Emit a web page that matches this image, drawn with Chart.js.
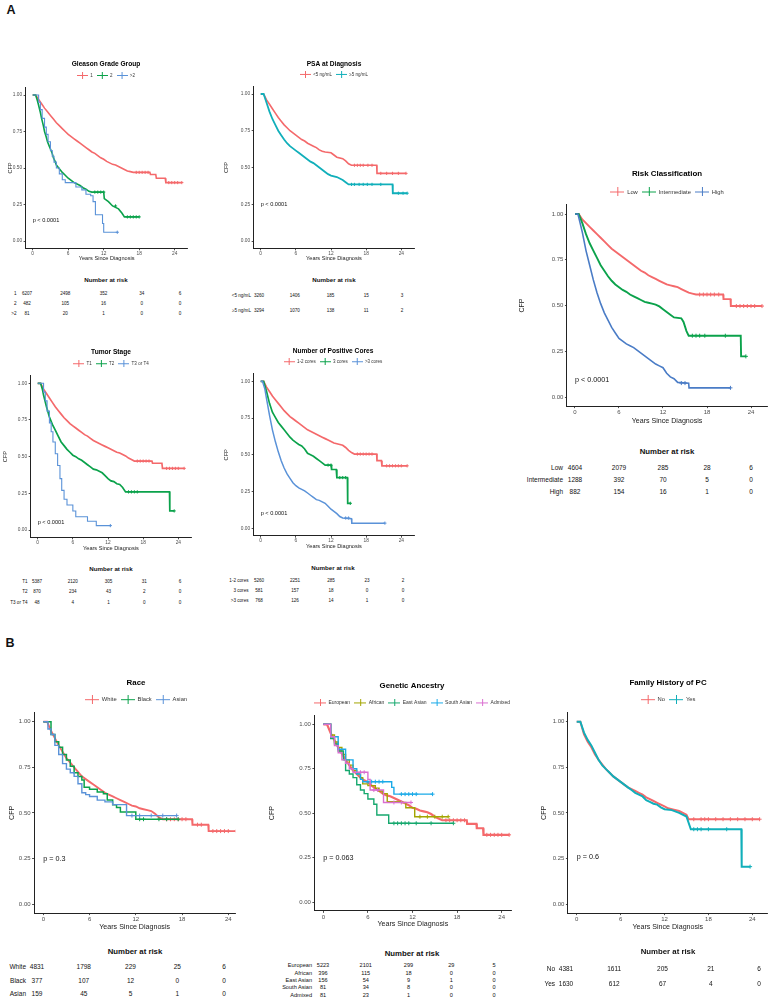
<!DOCTYPE html>
<html>
<head>
<meta charset="utf-8">
<script src="https://cdn.jsdelivr.net/npm/chart.js@4.4.0/dist/chart.umd.min.js"></script>
<style>
  body { margin: 0; width: 770px; height: 1000px; overflow: hidden; background: #fff; position: relative;
         font-family: "Liberation Sans", Arial, sans-serif; color: #111; }
  canvas { position: absolute; }
  .txt { position: absolute; white-space: nowrap; line-height: 1; }
</style>
</head>
<body>
<script>
// ---------- data ----------
const timeTicks = [0, 6, 12, 18, 24];
const survTicks = [0, 0.25, 0.5, 0.75, 1];

// Gleason Grade Group
const gleasonNames = ['1', '2', '>2'];
const gleason1 = [[0,1],[0.5,1],[1,0.97],[1.5,0.94],[2,0.91],[2.5,0.885],[3,0.86],[3.5,0.835],[4,0.81],[4.5,0.79],[5,0.77],[5.5,0.75],[6,0.73],[6.5,0.715],[7,0.7],[7.5,0.685],[8,0.67],[8.5,0.655],[9,0.64],[9.5,0.625],[10,0.61],[10.5,0.6],[11,0.585],[11.5,0.57],[12,0.56],[12.5,0.545],[13,0.535],[13.5,0.525],[14,0.52],[14.5,0.51],[15,0.5],[15.5,0.49],[16,0.48],[16.5,0.475],[17,0.47],[19.8,0.47],[19.9,0.455],[20.8,0.455],[20.9,0.43],[22.4,0.43],[22.5,0.4],[25.2,0.4]];
const gleason2 = [[0,1],[0.5,1],[0.8,0.96],[1,0.93],[1.3,0.88],[1.5,0.84],[1.8,0.79],[2,0.75],[2.3,0.71],[2.5,0.68],[2.8,0.65],[3,0.63],[3.3,0.6],[3.5,0.57],[3.8,0.545],[4,0.52],[4.5,0.495],[5,0.47],[5.5,0.45],[6,0.43],[6.5,0.415],[7,0.4],[7.5,0.39],[8,0.38],[8.5,0.365],[9,0.355],[9.5,0.34],[10,0.335],[12,0.335],[12.1,0.29],[12.8,0.27],[13.5,0.24],[14.5,0.22],[15.1,0.19],[15.5,0.165],[18,0.165]];
const gleason3 = [[0,1],[0.8,1],[1,0.95],[1.3,0.9],[1.6,0.84],[2,0.78],[2.3,0.73],[2.6,0.68],[3,0.62],[3.3,0.58],[3.6,0.54],[4,0.5],[4.5,0.46],[5,0.42],[5.5,0.4],[7.3,0.37],[8.3,0.35],[9,0.32],[9.8,0.31],[10.2,0.27],[10.6,0.18],[11.8,0.12],[12,0.06],[14.3,0.06]];
const gleason1Cens = [[17.5,0.47],[18,0.47],[18.5,0.47],[19,0.47],[19.5,0.47],[23,0.4],[23.5,0.4],[24,0.4],[24.5,0.4],[25.2,0.4]];
const gleason2Cens = [[10.5,0.335],[11,0.335],[11.5,0.335],[12,0.335],[14,0.24],[16,0.165],[16.5,0.165],[17,0.165],[17.5,0.165],[18,0.165]];
const gleason3Cens = [[14.3,0.06]];
const gleasonRisk = [[6207,2498,352,34,6],[482,105,16,0,0],[81,20,1,0,0]];

// PSA at Diagnosis
const psaNames = ['<5 ng/mL', '\u22655 ng/mL'];
const psaLow = [[0,1],[0.5,1],[1,0.96],[1.5,0.93],[2,0.9],[2.5,0.87],[3,0.84],[3.5,0.815],[4,0.79],[4.5,0.77],[5,0.75],[5.5,0.735],[6,0.72],[6.5,0.705],[7,0.69],[7.5,0.68],[8,0.665],[8.5,0.655],[9,0.645],[9.5,0.635],[10,0.62],[10.5,0.61],[11,0.605],[12,0.6],[12.5,0.585],[13,0.57],[14,0.56],[14.5,0.545],[15,0.525],[15.5,0.515],[19.8,0.515],[19.85,0.46],[24.8,0.46]];
const psaHigh = [[0,1],[0.5,1],[1,0.94],[1.5,0.88],[2,0.83],[2.5,0.79],[3,0.75],[3.5,0.72],[4,0.69],[4.5,0.665],[5,0.645],[5.5,0.63],[6,0.615],[6.5,0.6],[7,0.585],[7.5,0.57],[8,0.555],[8.5,0.54],[9,0.53],[9.5,0.515],[10,0.5],[10.5,0.485],[11,0.47],[11.5,0.455],[12,0.445],[13,0.435],[13.5,0.425],[14,0.415],[14.5,0.4],[15,0.385],[22.5,0.385],[22.55,0.325],[25,0.325]];
const psaLowCens = [[16,0.515],[16.5,0.515],[17,0.515],[17.5,0.515],[18.3,0.515],[19,0.515],[20.5,0.46],[21.5,0.46],[22.5,0.46],[23.5,0.46],[24.8,0.46]];
const psaHighCens = [[15.5,0.385],[16,0.385],[16.8,0.385],[17.5,0.385],[18.2,0.385],[19,0.385],[20.5,0.385],[23.5,0.325],[24.3,0.325],[25,0.325]];
const psaRisk = [[3260,1406,185,15,3],[3294,1070,138,11,2]];

// Tumor Stage
const stageNames = ['T1', 'T2', 'T3 or T4'];
const stageT1 = [[0,1],[0.5,1],[1,0.96],[1.5,0.93],[2,0.9],[2.5,0.87],[3,0.84],[3.5,0.815],[4,0.79],[4.5,0.765],[5,0.745],[5.5,0.725],[6,0.71],[6.5,0.695],[7,0.68],[7.5,0.665],[8,0.65],[8.5,0.64],[9,0.625],[9.5,0.61],[10,0.6],[10.5,0.59],[11,0.58],[11.5,0.57],[12,0.56],[12.5,0.55],[13,0.54],[13.5,0.53],[14,0.525],[14.5,0.515],[15,0.505],[15.5,0.49],[16,0.48],[16.5,0.47],[19.5,0.47],[19.6,0.455],[21.2,0.455],[21.3,0.42],[25,0.42]];
const stageT2 = [[0,1],[0.5,1],[0.8,0.96],[1,0.92],[1.5,0.84],[2,0.77],[2.5,0.72],[3,0.68],[3.5,0.64],[4,0.6],[4.5,0.575],[5,0.55],[5.5,0.53],[6,0.51],[6.5,0.5],[7,0.485],[7.5,0.475],[8,0.46],[8.5,0.445],[9,0.43],[9.5,0.415],[10,0.41],[10.5,0.4],[11,0.39],[11.5,0.37],[12,0.35],[12.5,0.335],[13,0.33],[13.5,0.315],[14,0.31],[14.5,0.29],[15,0.26],[22.5,0.26],[22.55,0.13],[23.3,0.13]];
const stageT3 = [[0,1],[0.8,1],[1,0.94],[1.3,0.88],[1.6,0.81],[2,0.73],[2.3,0.67],[2.6,0.6],[3,0.52],[3.4,0.44],[3.8,0.35],[4.1,0.27],[4.5,0.21],[5,0.17],[6,0.13],[6.5,0.09],[8.5,0.06],[10,0.03],[12.4,0.03]];
const stageT1Cens = [[17,0.47],[17.5,0.47],[18,0.47],[18.5,0.47],[19,0.47],[22,0.42],[22.5,0.42],[23,0.42],[23.5,0.42],[24,0.42],[25,0.42]];
const stageT2Cens = [[15.5,0.26],[16,0.26],[16.5,0.26],[17,0.26],[23.3,0.13]];
const stageT3Cens = [[12.4,0.03]];
const stageRisk = [[5387,2120,305,31,6],[870,234,43,2,0],[48,4,1,0,0]];

// Number of Positive Cores
const coresNames = ['1-2 cores', '3 cores', '>3 cores'];
const cores12 = [[0,1],[0.5,1],[1,0.96],[1.5,0.93],[2,0.9],[2.5,0.875],[3,0.85],[3.5,0.825],[4,0.8],[4.5,0.78],[5,0.76],[5.5,0.745],[6,0.73],[6.5,0.715],[7,0.7],[7.5,0.685],[8,0.67],[8.5,0.66],[9,0.65],[9.5,0.64],[10,0.63],[10.5,0.62],[11,0.61],[11.5,0.6],[12,0.59],[12.5,0.58],[13,0.575],[14,0.565],[14.5,0.55],[15,0.53],[15.5,0.515],[16,0.505],[19.8,0.505],[19.85,0.46],[20.6,0.46],[20.7,0.425],[25,0.425]];
const cores3 = [[0,1],[0.5,1],[1,0.93],[1.5,0.85],[2,0.79],[2.5,0.755],[3,0.72],[3.5,0.695],[4,0.67],[4.5,0.645],[5,0.62],[5.5,0.6],[6,0.585],[6.5,0.57],[7,0.56],[7.5,0.54],[8,0.51],[8.5,0.5],[9,0.49],[9.5,0.475],[10,0.46],[10.5,0.445],[11,0.43],[12,0.43],[12.1,0.4],[12.9,0.4],[13,0.345],[14.8,0.345],[14.85,0.17],[15.3,0.17]];
const cores4 = [[0,1],[0.3,1],[0.7,0.95],[1,0.88],[1.5,0.77],[2,0.67],[2.5,0.59],[3,0.52],[3.5,0.46],[4,0.41],[4.5,0.37],[5,0.34],[5.5,0.31],[6,0.29],[6.5,0.275],[7,0.265],[7.5,0.255],[8,0.24],[8.5,0.225],[9,0.21],[9.5,0.195],[10,0.19],[10.5,0.18],[11,0.17],[11.5,0.15],[12,0.13],[12.5,0.115],[13,0.1],[13.5,0.08],[14,0.07],[15.5,0.065],[15.55,0.035],[21.2,0.035]];
const cores12Cens = [[16.5,0.505],[17,0.505],[17.5,0.505],[18,0.505],[18.5,0.505],[19,0.505],[21.5,0.425],[22,0.425],[22.5,0.425],[23,0.425],[23.5,0.425],[24,0.425],[25,0.425]];
const cores3Cens = [[11.5,0.43],[12,0.43],[13.5,0.345],[14,0.345],[14.5,0.345],[15.3,0.17]];
const cores4Cens = [[14.5,0.07],[15,0.07],[21.2,0.035]];
const coresRisk = [[5260,2251,285,23,2],[581,157,18,0,0],[768,126,14,1,0]];

// Risk Classification
const riskNames = ['Low', 'Intermediate', 'High'];
const riskLow = [[0,1],[0.5,1],[1,0.97],[1.5,0.95],[2,0.93],[2.5,0.91],[3,0.89],[3.5,0.87],[4,0.85],[4.5,0.83],[5,0.81],[5.5,0.795],[6,0.78],[6.5,0.765],[7,0.75],[7.5,0.735],[8,0.72],[8.5,0.705],[9,0.69],[9.5,0.68],[10,0.665],[10.5,0.655],[11,0.645],[11.5,0.635],[12,0.625],[12.5,0.615],[13,0.61],[13.5,0.605],[14,0.6],[14.5,0.59],[15,0.58],[15.5,0.57],[16,0.565],[16.5,0.56],[20.2,0.56],[20.25,0.535],[21.2,0.535],[21.25,0.497],[25.5,0.497]];
const riskInt = [[0,1],[0.5,1],[1,0.95],[1.5,0.89],[2,0.84],[2.5,0.8],[3,0.76],[3.5,0.72],[4,0.69],[4.5,0.66],[5,0.635],[5.5,0.615],[6,0.6],[6.5,0.585],[7,0.575],[7.5,0.56],[8,0.55],[8.5,0.54],[9,0.53],[9.5,0.52],[10,0.515],[10.5,0.51],[11,0.505],[11.5,0.495],[12,0.48],[12.5,0.465],[13,0.45],[13.5,0.435],[14.5,0.43],[14.8,0.41],[15.2,0.36],[15.5,0.335],[22.6,0.335],[22.65,0.222],[23.3,0.222]];
const riskHigh = [[0,1],[0.4,1],[0.7,0.95],[1,0.9],[1.5,0.8],[2,0.72],[2.5,0.64],[3,0.57],[3.5,0.51],[4,0.46],[4.5,0.42],[5,0.38],[5.5,0.35],[6,0.32],[6.5,0.305],[7,0.29],[7.5,0.28],[8,0.27],[8.5,0.255],[9,0.24],[9.5,0.225],[10,0.21],[10.5,0.195],[11,0.18],[11.5,0.17],[12,0.16],[12.5,0.13],[13,0.11],[13.5,0.1],[14,0.08],[15.5,0.075],[15.55,0.05],[21.2,0.05]];
const riskLowCens = [[17,0.56],[17.5,0.56],[18,0.56],[18.5,0.56],[19,0.56],[19.6,0.56],[22,0.497],[22.5,0.497],[23,0.497],[23.5,0.497],[24,0.497],[24.5,0.497],[25.5,0.497]];
const riskIntCens = [[16,0.335],[16.5,0.335],[17,0.335],[17.7,0.335],[20.5,0.335],[23.3,0.222]];
const riskHighCens = [[14.5,0.076],[15,0.076],[21.2,0.05]];
const riskRisk = [[4604,2079,285,28,6],[1288,392,70,5,0],[882,154,16,1,0]];

// Race
const raceNames = ['White', 'Black', 'Asian'];
const raceWhite = [[0,1],[0.5,1],[1,0.95],[1.5,0.91],[2,0.87],[2.5,0.835],[3,0.8],[3.5,0.775],[4,0.75],[4.5,0.725],[5,0.7],[5.5,0.685],[6,0.67],[6.5,0.655],[7,0.64],[7.5,0.625],[8,0.61],[8.5,0.6],[9,0.59],[9.5,0.58],[10,0.57],[10.5,0.56],[11,0.55],[11.5,0.54],[12,0.535],[12.5,0.525],[13,0.52],[13.5,0.515],[14,0.51],[14.5,0.495],[15,0.475],[15.5,0.465],[19.3,0.465],[19.35,0.435],[21.4,0.435],[21.45,0.4],[25,0.4]];
const raceBlack = [[0,1],[0.5,1],[1,0.93],[1.5,0.89],[2,0.86],[2.5,0.82],[3,0.79],[3.5,0.755],[4,0.72],[4.5,0.7],[5,0.68],[5.3,0.64],[6,0.63],[7,0.615],[7.8,0.605],[8.3,0.57],[9,0.545],[9.5,0.53],[10,0.505],[12,0.465],[17.5,0.465]];
const raceAsian = [[0,1],[0.3,1],[0.6,0.96],[1,0.93],[1.5,0.87],[2,0.82],[2.5,0.77],[3,0.74],[3.5,0.72],[4,0.7],[4.5,0.66],[5,0.61],[5.5,0.6],[6,0.59],[7,0.57],[8,0.56],[9,0.545],[10.8,0.485],[17.3,0.485]];
const raceWhiteCens = [[16,0.465],[16.5,0.465],[17,0.465],[17.5,0.465],[18,0.465],[18.5,0.465],[20,0.435],[20.5,0.435],[22,0.4],[22.5,0.4],[23,0.4],[23.5,0.4],[24,0.4],[25,0.4]];
const raceBlackCens = [[12.5,0.465],[13,0.465],[15,0.465],[16,0.465],[17.5,0.465]];
const raceAsianCens = [[11.5,0.485],[12.5,0.485],[14,0.485],[15.5,0.485],[17.3,0.485]];
const raceRisk = [[4831,1798,229,25,6],[377,107,12,0,0],[159,45,5,1,0]];

// Genetic Ancestry
const ancestryNames = ['European', 'African', 'East Asian', 'South Asian', 'Admixed'];
const ancEuropean = [[0,1],[0.5,1],[1,0.95],[1.5,0.91],[2,0.87],[2.5,0.835],[3,0.8],[3.5,0.77],[4,0.74],[4.5,0.72],[5,0.7],[5.5,0.685],[6,0.675],[6.5,0.655],[7,0.64],[7.5,0.625],[8,0.61],[8.5,0.6],[9,0.595],[9.5,0.585],[10,0.575],[10.5,0.565],[11,0.555],[11.5,0.545],[12,0.53],[12.5,0.525],[13,0.515],[13.5,0.51],[14,0.505],[14.5,0.495],[15,0.48],[15.5,0.47],[16,0.46],[19.3,0.46],[19.35,0.44],[20.6,0.44],[20.65,0.415],[21.5,0.415],[21.55,0.378],[25,0.378]];
const ancAfrican = [[0,1],[0.5,1],[1,0.94],[1.5,0.9],[2,0.87],[2.5,0.83],[3,0.8],[3.5,0.77],[4,0.74],[4.5,0.72],[5,0.7],[5.3,0.665],[6,0.655],[7,0.64],[7.5,0.625],[8,0.61],[8.6,0.565],[10.5,0.56],[11.1,0.53],[12.3,0.48],[16.8,0.48]];
const ancEastAsian = [[0,1],[0.3,1],[1,0.92],[1.5,0.89],[2,0.85],[2.7,0.8],[3,0.74],[3.5,0.72],[4,0.7],[4.5,0.66],[5,0.63],[5.5,0.61],[6,0.58],[6.8,0.55],[7.2,0.49],[8.8,0.443],[17.5,0.443]];
const ancSouthAsian = [[0,1],[0.3,1],[1,0.93],[2,0.86],[3,0.8],[4,0.75],[4.5,0.72],[5,0.69],[5.3,0.677],[9.2,0.645],[9.5,0.607],[14.7,0.607]];
const ancAdmixed = [[0,1],[0.3,1],[1,0.93],[1.5,0.88],[2,0.84],[2.5,0.8],[3,0.78],[3.5,0.75],[4,0.73],[6,0.69],[6.3,0.63],[8.1,0.56],[11.8,0.56]];
const ancEuropeanCens = [[16.5,0.46],[17,0.46],[17.5,0.46],[18,0.46],[18.5,0.46],[19,0.46],[22,0.378],[22.5,0.378],[23,0.378],[23.5,0.378],[24,0.378],[25,0.378]];
const ancAfricanCens = [[13,0.48],[14,0.48],[15,0.48],[16,0.48],[16.8,0.48]];
const ancEastAsianCens = [[9.5,0.443],[10,0.443],[10.5,0.443],[11,0.443],[11.5,0.443],[12.5,0.443],[14.5,0.443],[17.5,0.443]];
const ancSouthAsianCens = [[6,0.677],[6.5,0.677],[7,0.677],[7.5,0.677],[8,0.677],[10.5,0.607],[11,0.607],[11.5,0.607],[12,0.607],[12.5,0.607],[14.7,0.607]];
const ancAdmixedCens = [[5,0.73],[5.5,0.73],[6.8,0.63],[7.3,0.63],[9.5,0.56],[10.5,0.56],[11.8,0.56]];
const ancestryRisk = [[5223,2101,299,29,5],[396,115,18,0,0],[156,54,9,1,0],[81,34,8,0,0],[81,23,1,0,0]];

// Family History of PC
const familyNames = ['No', 'Yes'];
const familyNo = [[0,1],[0.5,1],[1,0.93],[1.5,0.89],[2,0.86],[2.5,0.82],[3,0.79],[3.5,0.765],[4,0.74],[4.5,0.72],[5,0.7],[5.5,0.685],[6,0.67],[6.5,0.655],[7,0.64],[7.5,0.63],[8,0.62],[8.5,0.61],[9,0.6],[9.5,0.585],[10,0.575],[10.5,0.565],[11,0.555],[11.5,0.545],[12,0.535],[12.5,0.525],[13,0.52],[14,0.51],[15,0.49],[15.3,0.465],[25,0.465]];
const familyYes = [[0,1],[0.5,1],[1,0.94],[1.5,0.9],[2,0.87],[2.5,0.83],[3,0.79],[3.5,0.76],[4,0.74],[4.5,0.72],[5,0.7],[5.5,0.685],[6,0.67],[6.5,0.655],[7,0.64],[7.5,0.625],[8,0.61],[8.5,0.6],[9,0.59],[9.5,0.57],[10,0.56],[10.5,0.55],[11,0.545],[11.5,0.53],[12,0.52],[13,0.515],[14,0.5],[15,0.48],[15.6,0.41],[22.5,0.41],[22.55,0.205],[23.7,0.205]];
const familyNoCens = [[16,0.465],[17,0.465],[17.5,0.465],[18,0.465],[19,0.465],[20,0.465],[21,0.465],[22,0.465],[23,0.465],[24,0.465],[25,0.465]];
const familyYesCens = [[16,0.41],[16.5,0.41],[17,0.41],[18,0.41],[20.5,0.41],[23.7,0.205]];
const familyRisk = [[4381,1611,205,21,6],[1630,612,67,4,0]];

// ---------- styles ----------
const FONT = '"Liberation Sans", Arial, sans-serif';
Chart.defaults.font.family = FONT;

const RED = '#F4696B', GREEN = '#0BA24B', BLUE = '#5A92D8', BLUE2 = '#4A7CC6', TEAL = '#11AFBA';
const OLIVE = '#A3A500', EGREEN = '#16A86E', SKY = '#1AAAE8', PINK = '#DA6FD0';

const SMALL = { title: 6.6, legend: 4.5, tick: 4.8, axis: 5.6, p: 5.6, cross: 1.6, lw: 1.3, num: 4.6, tTitle: 6.2 };
const BIG = { title: 7.9, legend: 5.8, tick: 6.0, axis: 7.1, p: 7.2, cross: 2.0, lw: 1.5, num: 6.5, tTitle: 7.8 };

function addText(txt, x, y, align, size, bold) {
  const d = document.createElement('div');
  d.className = 'txt';
  d.textContent = txt;
  const tx = align === 'center' ? '-50%' : align === 'right' ? '-100%' : '0';
  d.style.left = x + 'px';
  d.style.top = y + 'px';
  d.style.fontSize = size + 'px';
  d.style.fontWeight = bold ? 'bold' : 'normal';
  d.style.transform = 'translate(' + tx + ',-50%)';
  document.body.appendChild(d);
}

function legendIcon(color, fs) {
  const w = Math.round(fs * 2.4), h = Math.round(fs * 1.4) | 1;
  const c = document.createElement('canvas');
  c.width = w; c.height = h;
  const g = c.getContext('2d');
  g.strokeStyle = color;
  g.lineWidth = 1;
  g.beginPath();
  g.moveTo(0, h / 2); g.lineTo(w, h / 2);
  g.moveTo(Math.floor(w / 2) + 0.5, 0); g.lineTo(Math.floor(w / 2) + 0.5, h);
  g.stroke();
  return c;
}

const pvalPlugin = {
  id: 'pval',
  afterDatasetsDraw(chart, args, opts) {
    const { ctx, scales: { x, y } } = chart;
    ctx.save();
    ctx.font = opts.size + 'px ' + FONT;
    ctx.fillStyle = '#111';
    ctx.textAlign = 'left';
    ctx.textBaseline = 'middle';
    ctx.fillText(opts.text, x.getPixelForValue(0), y.getPixelForValue(opts.y));
    ctx.restore();
  }
};

function kmPanel(p) {
  const g = p.geo, f = p.font;
  const ppx = (g.x24 - g.x0) / 24, ppy = g.y0 - g.y1;
  const left = g.x0 + g.xmin * ppx, right = g.x0 + g.xmax * ppx;
  const top = g.y1 - 0.05 * ppy, bottom = g.y0 + 0.05 * ppy;
  const cLeft = Math.round(g.cfpX - f.axis * 0.6);
  const cTop = Math.round(g.titleY - f.title * 0.6);
  const cW = Math.round(2 * (g.titleX - cLeft));
  const cH = Math.round(g.xTitleY + f.axis * 0.6 - cTop);
  const lp = 4;
  const tpb = top - cTop - f.title * 1.2 - f.legend - lp - 10;
  const wy = left - cLeft, wr = cLeft + cW - right, hx = cTop + cH - bottom;

  const cv = document.createElement('canvas');
  cv.width = cW; cv.height = cH;
  cv.style.left = cLeft + 'px'; cv.style.top = cTop + 'px';
  cv.style.width = cW + 'px'; cv.style.height = cH + 'px';
  document.body.appendChild(cv);

  const n = p.names.length;
  const datasets = [];
  p.names.forEach((name, i) => {
    datasets.push({
      label: name,
      data: p.curves[i].map(([x, y]) => ({ x, y })),
      borderColor: p.colors[i], backgroundColor: p.colors[i],
      borderWidth: p.widths ? p.widths[i] : f.lw,
      stepped: p.stepped && p.stepped[i] ? true : false,
      pointRadius: 0, pointHoverRadius: 0,
      pointStyle: legendIcon(p.colors[i], f.legend),
      order: n - i, fill: false
    });
  });
  p.names.forEach((name, i) => {
    datasets.push({
      label: '',
      data: p.censors[i].map(([x, y]) => ({ x, y })),
      borderColor: p.colors[i], backgroundColor: p.colors[i],
      showLine: false, pointStyle: 'cross', pointRadius: f.cross, pointBorderWidth: 1,
      pointHoverRadius: 0, order: n - i
    });
  });

  new Chart(cv, {
    type: 'line',
    data: { datasets },
    options: {
      responsive: false, animation: false, events: [],
      layout: { padding: 0 },
      plugins: {
        title: { display: true, text: p.title, color: '#000',
                 font: { size: f.title, weight: 'bold' }, padding: { top: 0, bottom: tpb } },
        legend: { display: true, position: 'top',
                  labels: { usePointStyle: true, pointStyleWidth: Math.round(f.legend * 2.4),
                            padding: lp, color: '#333', font: { size: f.legend },
                            filter: it => it.text !== '',
                            sort: (a, b) => a.datasetIndex - b.datasetIndex } },
        tooltip: { enabled: false },
        pval: { text: p.pText, y: p.pY, size: f.p }
      },
      scales: {
        x: {
          type: 'linear', min: g.xmin, max: g.xmax,
          afterBuildTicks: s => { s.ticks = timeTicks.map(v => ({ value: v })); },
          afterFit: s => { s.height = hx; },
          grid: { display: true, drawOnChartArea: false, tickLength: 2, color: '#222', lineWidth: 0.8 },
          border: { display: true, color: '#222', width: 1 },
          ticks: { font: { size: f.tick }, color: '#4d4d4d', padding: 0.5, maxRotation: 0, autoSkip: false },
          title: { display: true, text: 'Years Since Diagnosis', color: '#1a1a1a',
                   font: { size: f.axis }, padding: 0 }
        },
        y: {
          type: 'linear', min: -0.05, max: 1.05,
          afterBuildTicks: s => { s.ticks = survTicks.map(v => ({ value: v })); },
          afterFit: s => { s.width = wy; },
          grid: { display: true, drawOnChartArea: false, tickLength: 2, color: '#222', lineWidth: 0.8 },
          border: { display: true, color: '#222', width: 1 },
          ticks: { font: { size: f.tick }, color: '#4d4d4d', padding: 1.5, autoSkip: false,
                   callback: v => Number(v).toFixed(2) },
          title: { display: true, text: 'CFP', color: '#1a1a1a', font: { size: f.axis }, padding: 0 }
        },
        yR: {
          type: 'linear', position: 'right', display: true,
          grid: { display: false }, border: { display: false }, ticks: { display: false },
          afterFit: s => { s.width = wr; }
        }
      }
    },
    plugins: [pvalPlugin]
  });

  // number at risk table
  const t = p.table;
  addText('Number at risk', t.titleX, t.titleY, 'center', f.tTitle, true);
  p.risk.forEach((row, i) => {
    addText(p.names[i], t.labelRight, t.rows[i], 'right', t.num || f.num);
    row.forEach((v, j) => {
      addText(String(v), t.c0 + (t.c24 - t.c0) * timeTicks[j] / 24, t.rows[i], 'center', t.num || f.num);
    });
  });
}

addText('A', 6.5, 9.5, 'left', 12.5, true);
addText('B', 5.5, 642.5, 'left', 12.5, true);

kmPanel({
  title: 'Gleason Grade Group', names: gleasonNames, colors: [RED, GREEN, BLUE],
  curves: [gleason1, gleason2, gleason3], censors: [gleason1Cens, gleason2Cens, gleason3Cens],
  stepped: [false, false, true], widths: [1.6, 1.6, 1.1],
  risk: gleasonRisk, pText: 'p < 0.0001', pY: 0.142, font: SMALL,
  geo: { x0: 32.7, x24: 174.7, y1: 95, y0: 241, xmin: -1.2, xmax: 26.2, titleX: 106, titleY: 64, cfpX: 10, xTitleY: 258.5 },
  table: { titleX: 106, titleY: 280, rows: [293.5, 303.5, 313.5], labelRight: 16.5, c0: 27, c24: 180 }
});
kmPanel({
  title: 'PSA at Diagnosis', names: psaNames, colors: [RED, TEAL],
  curves: [psaLow, psaHigh], censors: [psaLowCens, psaHighCens], widths: [1.6, 1.8],
  risk: psaRisk, pText: 'p < 0.0001', pY: 0.25, font: SMALL,
  geo: { x0: 260.7, x24: 401.3, y1: 94, y0: 241, xmin: -1.2, xmax: 26.2, titleX: 334, titleY: 63.5, cfpX: 226, xTitleY: 259 },
  table: { titleX: 334, titleY: 280, rows: [296, 310.5], labelRight: 251, c0: 259, c24: 402 }
});
kmPanel({
  title: 'Tumor Stage', names: stageNames, colors: [RED, GREEN, BLUE],
  curves: [stageT1, stageT2, stageT3], censors: [stageT1Cens, stageT2Cens, stageT3Cens],
  stepped: [false, false, true], widths: [1.7, 1.7, 1.1],
  risk: stageRisk, pText: 'p < 0.0001', pY: 0.05, font: SMALL,
  geo: { x0: 37.7, x24: 178.3, y1: 383.3, y0: 530, xmin: -1.2, xmax: 26.2, titleX: 111, titleY: 352, cfpX: 5.5, xTitleY: 548.3 },
  table: { titleX: 111, titleY: 569, rows: [582, 592, 603], labelRight: 27.5, c0: 37, c24: 180 }
});
kmPanel({
  title: 'Number of Positive Cores', names: coresNames, colors: [RED, GREEN, BLUE],
  curves: [cores12, cores3, cores4], censors: [cores12Cens, cores3Cens, cores4Cens],
  widths: [1.7, 1.7, 1.5],
  risk: coresRisk, pText: 'p < 0.0001', pY: 0.1, font: SMALL,
  geo: { x0: 260.7, x24: 401.3, y1: 381.3, y0: 528.3, xmin: -1.2, xmax: 26.2, titleX: 333, titleY: 351, cfpX: 226, xTitleY: 547 },
  table: { titleX: 333, titleY: 568, rows: [580.5, 590.5, 601], labelRight: 248.5, c0: 259, c24: 403 }
});
kmPanel({
  title: 'Risk Classification', names: riskNames, colors: [RED, GREEN, BLUE2],
  curves: [riskLow, riskInt, riskHigh], censors: [riskLowCens, riskIntCens, riskHighCens],
  widths: [1.9, 1.9, 1.6],
  risk: riskRisk, pText: 'p < 0.0001', pY: 0.095, font: BIG,
  geo: { x0: 575, x24: 751, y1: 214, y0: 397, xmin: -1.1, xmax: 26.2, titleX: 667, titleY: 174, cfpX: 522, xTitleY: 421 },
  table: { titleX: 667, titleY: 452, rows: [468, 480, 492], labelRight: 563, c0: 575, c24: 751 }
});
kmPanel({
  title: 'Race', names: raceNames, colors: [RED, GREEN, BLUE],
  curves: [raceWhite, raceBlack, raceAsian], censors: [raceWhiteCens, raceBlackCens, raceAsianCens],
  stepped: [false, true, true], widths: [1.9, 1.5, 1.4],
  risk: raceRisk, pText: 'p = 0.3', pY: 0.247, font: BIG,
  geo: { x0: 43.3, x24: 228.3, y1: 721.7, y0: 904, xmin: -1.2, xmax: 24.9, titleX: 136, titleY: 683, cfpX: 12, xTitleY: 927 },
  table: { titleX: 135, titleY: 952, rows: [967, 981, 994], labelRight: 26, c0: 37, c24: 224 }
});
kmPanel({
  title: 'Genetic Ancestry', names: ancestryNames, colors: [RED, OLIVE, EGREEN, SKY, PINK],
  curves: [ancEuropean, ancAfrican, ancEastAsian, ancSouthAsian, ancAdmixed],
  censors: [ancEuropeanCens, ancAfricanCens, ancEastAsianCens, ancSouthAsianCens, ancAdmixedCens],
  stepped: [false, true, true, true, true], widths: [2.2, 1.4, 1.4, 1.4, 1.4],
  risk: ancestryRisk, pText: 'p = 0.063', pY: 0.25, font: Object.assign({}, BIG, { legend: 5 }),
  geo: { x0: 323.3, x24: 501.7, y1: 724.3, y0: 902, xmin: -1.2, xmax: 25.3, titleX: 412, titleY: 686, cfpX: 272, xTitleY: 924 },
  table: { titleX: 412, titleY: 954, rows: [966, 973.5, 981, 988.3, 995.7], labelRight: 312, c0: 323, c24: 494, num: 5.6 }
});
kmPanel({
  title: 'Family History of PC', names: familyNames, colors: [RED, TEAL],
  curves: [familyNo, familyYes], censors: [familyNoCens, familyYesCens],
  widths: [2.0, 2.0],
  risk: familyRisk, pText: 'p = 0.6', pY: 0.255, font: BIG,
  geo: { x0: 576.7, x24: 752.3, y1: 721.7, y0: 904, xmin: -1.2, xmax: 26.1, titleX: 668, titleY: 683, cfpX: 544, xTitleY: 927 },
  table: { titleX: 668, titleY: 952, rows: [969, 984], labelRight: 555, c0: 566, c24: 759 }
});
</script>
</body>
</html>
